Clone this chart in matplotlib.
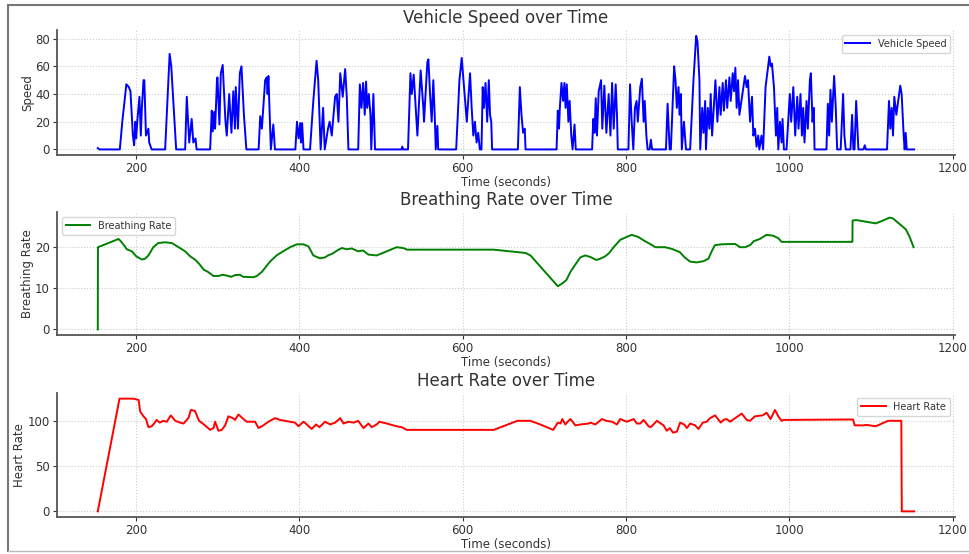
import matplotlib
matplotlib.use("Agg")
import matplotlib.pyplot as plt
from matplotlib.lines import Line2D

# vehicle speed readings (time in seconds, speed)
speed_time = [153, 155, 180, 183, 188, 191, 193, 196, 197.5, 199, 200, 201.6, 204, 205.7, 207, 209, 210, 212, 215, 216, 219,
              235.5, 241, 243, 249, 260, 262, 265, 268, 270, 272.7, 274, 290.6, 292.6, 293.8, 295.5, 296.7, 299, 299.6,
              302, 303.7, 306, 309.4, 311, 314, 316.7, 319, 321, 322, 324.7, 327, 329, 332, 335, 350, 352, 354, 358,
              360, 361, 362, 365, 368, 370, 395, 397, 399, 401, 402, 403.3, 405, 413, 417, 421, 423, 426, 429, 431,
              435, 437, 439.6, 443.7, 445.7, 447.8, 450, 453, 456, 458, 460, 472, 474, 476, 478, 480, 481.6, 483, 485,
              487, 488, 490.6, 492.6, 525, 526, 527, 533, 536, 537.6, 540, 542.5, 544.5, 548.5, 551.8, 552.6, 556.7,
              558, 560, 562, 564, 566, 567, 569, 570, 592, 596, 598.8, 601, 605, 609, 611, 613, 615, 617, 619, 621,
              623, 624.5, 626, 628, 630, 632, 633.5, 635, 636, 667.6, 670, 672, 674, 676, 677, 715, 716.5, 718, 719,
              721, 723, 724.6, 726, 727.5, 729.5, 731, 733, 734.6, 737, 738.5, 758.5, 760, 761.5, 763, 764.5, 766.6,
              769.5, 771, 773.5, 776, 778.8, 781, 783, 785, 787.4, 789, 790, 803, 805, 807, 809, 811, 813, 814.5,
              817.5, 819.5, 821.6, 823, 825, 826.5, 829, 830.5, 832, 849, 851, 853.5, 855, 859, 860.7, 862.3, 864.4,
              865.6, 867.2, 868.4, 871, 873.5, 878.6, 882.7, 886, 887.6, 890, 891, 893.4, 895, 897, 898, 900.2, 902.2,
              903.8, 905.5, 909.6, 912, 914.5, 916, 918.5, 920, 922.5, 924, 926.7, 928.3, 930.8, 932.4, 934, 935.6,
              937.3, 939, 945.8, 947.8, 949.5, 952, 954.4, 956, 958, 960, 962, 963.4, 966, 968, 971, 975.6, 977.2,
              978.8, 981.3, 983.7, 985.3, 986.6, 988.6, 990.6, 991.8, 993.5, 996.7, 1000.7, 1002.4, 1005, 1007.3,
              1009.8, 1011.4, 1013.8, 1015.5, 1017.1, 1018.7, 1021.2, 1022.8, 1025.3, 1026.5, 1028.5, 1030.1, 1031,
              1045.6, 1047.3, 1048.9, 1050.5, 1052.2, 1055, 1057, 1058.7, 1063, 1066, 1067.6, 1069.2, 1075, 1077,
              1078.6, 1080, 1082, 1084.7, 1091, 1092.5, 1094, 1119.8, 1122.2, 1123.8, 1125.5, 1127.1, 1128.7, 1131.2,
              1136, 1137.7, 1140.2, 1141.4, 1142.6, 1144, 1153]
speed_vals = [1, 0, 0, 20, 47, 45, 42, 10, 3, 20, 8, 22, 38, 10, 30, 50, 50, 10, 15, 5, 0,
              0, 69, 60, 0, 0, 38, 5, 22, 5, 8, 0, 0, 28, 13, 27, 15, 50, 52,
              18, 55, 61, 20, 10, 40, 12, 42, 15, 45, 15, 55, 60, 25, 0, 0, 24, 15, 50,
              52, 40, 53, 0, 18, 0, 0, 20, 8, 19, 5, 19, 0, 0, 35, 64, 50, 0, 30, 0,
              15, 20, 10, 38, 40, 20, 55, 38, 58, 38, 0, 0, 47, 30, 48, 25, 49, 30, 40,
              25, 0, 40, 0, 0, 2, 0, 0, 55, 40, 54, 30, 10, 57, 30, 20, 63,
              65, 40, 20, 50, 20, 0, 17, 0, 0, 50, 66, 50, 20, 55, 30, 10, 20, 5, 12, 0,
              0, 45, 30, 48, 20, 50, 25, 20, 0, 0, 45, 25, 12, 15, 0, 0, 28, 15, 30,
              48, 35, 48, 30, 47, 20, 35, 10, 0, 18, 0, 0, 22, 12, 37, 10, 42,
              50, 15, 46, 12, 40, 10, 48, 15, 47, 25, 0, 0, 47, 20, 0, 30, 35, 20,
              45, 51, 20, 35, 10, 0, 0, 7, 0, 0, 33, 0, 0, 60, 50, 30, 45,
              25, 40, 0, 20, 0, 0, 50, 82, 78, 50, 0, 30, 12, 35, 0, 30, 15,
              40, 10, 50, 20, 45, 25, 48, 28, 50, 30, 52, 35, 55, 42, 59, 30,
              50, 25, 53, 45, 50, 20, 38, 10, 15, 2, 10, 0, 10, 0, 45, 67, 60,
              62, 45, 10, 30, 0, 20, 5, 22, 0, 0, 40, 20, 45, 10,
              38, 15, 40, 10, 30, 5, 35, 15, 50, 55, 20, 30, 0,
              0, 33, 10, 43, 20, 53, 30, 0, 0, 40, 10, 0, 0, 25,
              0, 0, 35, 0, 0, 3, 0, 0, 35, 15, 30, 10, 38, 25,
              46, 40, 10, 0, 12, 0, 0]

# breathing rate readings
breath_time = [153, 153.2, 178.4, 181, 185, 188.6, 194.7, 200, 207, 211, 215, 221, 227, 235.5, 243.7, 252, 260, 266,
               272, 277, 283, 288, 294.7, 300.8, 306, 313, 316.3, 321, 327, 331, 343.7, 347.8, 354, 360, 364, 372,
               380, 388.6, 396.7, 404.9, 411, 417, 425, 431, 435.1, 441, 447, 452, 458, 464, 472, 478, 484.5, 494.7,
               507, 519, 527, 532, 638, 677, 683, 716.5, 722, 727, 732, 737, 744, 750, 756.6, 763.7, 768.5, 774.6,
               779, 785, 793, 801, 807, 815, 823, 832, 836, 848, 856, 866, 872, 878.6, 886.7, 894.9, 901, 905,
               909, 917, 933.6, 939.7, 945.8, 952, 956.8, 964, 972, 980.3, 986.6, 990.6, 1077.4, 1077.6, 1082,
               1094, 1106, 1115, 1123, 1127, 1133, 1139, 1143, 1147.5, 1152.3]
breath_vals = [0, 20, 22, 21.5, 20.5, 19.5, 19, 17.8, 17, 17.2, 18, 20, 21, 21.2, 21, 20, 19, 17.8,
               17, 16, 14.5, 14, 13, 13, 13.3, 13, 12.8, 13.2, 13.3, 12.8, 12.7, 13, 14, 15.5, 16.5, 18,
               19, 20, 20.7, 20.7, 20.2, 18, 17.3, 17.5, 18, 18.5, 19.3, 19.8, 19.5, 19.7, 19, 19.2, 18.2, 18,
               19, 20, 19.8, 19.4, 19.4, 18.6, 18, 10.5, 11.2, 12, 14, 15.5, 17.5, 18, 17.6, 16.9, 17.2, 17.8,
               18.5, 20, 21.8, 22.5, 23, 22.5, 21.5, 20.5, 20, 20, 19.6, 18.8, 17.5, 16.5, 16.3, 16.6, 17.2, 19,
               20.5, 20.7, 20.8, 20, 20, 20.5, 21.5, 22, 23, 22.8, 22.2, 21.3, 21.3, 26.5, 26.6,
               26.2, 25.8, 26.5, 27.2, 27, 26, 25, 24.3, 22.5, 20]

# heart rate readings
heart_time = [153, 179.6, 196.7, 203, 205, 209, 212, 215, 219, 222, 225, 229, 233, 237.6, 242.4, 248, 254, 258, 264,
              267, 272, 277, 283, 290.6, 294.7, 296.7, 300.8, 304.9, 309, 313, 318.4, 321.2, 325.3, 331.4, 335.5,
              345.7, 349.8, 355.9, 362, 366, 370.2, 376, 388.6, 394.7, 398.8, 405, 409, 415, 420.4, 424.5, 431.4,
              437.6, 443.7, 450, 454, 460, 466.4, 472, 478.4, 484.5, 488.6, 494.7, 498, 507, 519, 525.3, 531.4,
              638, 667, 683, 695, 710.8, 716.5, 719.8, 722, 725.7, 728.5, 732, 738, 744.4, 754.4, 756.4, 762.5,
              770.7, 776, 783, 789, 793, 801, 809.4, 813.4, 817.5, 821.6, 827.7, 830.5, 837.9, 846, 850, 853.6,
              857.6, 862.3, 866.4, 871.3, 874.6, 878.6, 884.7, 888.8, 894.1, 899, 903, 909.2, 916.1, 919.4, 923.4,
              927.5, 941.8, 947.9, 952, 958, 967.4, 972.3, 977.2, 982.5, 986.6, 990.6, 992.7, 1078.2, 1080.2,
              1090.4, 1094.5, 1106, 1121, 1137.3, 1137.9, 1153]
heart_vals = [0, 124.5, 124.5, 123, 110, 105, 102, 93, 94, 97, 101, 98, 100, 99, 106, 100, 98, 97, 103,
              112, 111, 100, 96, 90, 92, 99, 89, 90, 95, 105, 103, 101, 107, 102, 99,
              99, 92, 95, 99, 101, 103, 101, 99, 98, 94, 99, 96, 91, 96, 93, 99,
              96, 98, 103, 97, 99, 98, 100, 92, 97, 93, 96, 99, 97, 94, 93, 90,
              90, 100, 100, 96, 90, 98, 97, 102, 96, 99, 102, 95, 96, 97, 98, 96,
              102, 100, 99, 96, 102, 99, 102, 97, 97, 101, 94, 93, 100, 95, 89, 92,
              87, 88, 98, 96, 92, 97, 95, 91, 98, 99, 103, 106, 98, 101, 102,
              99, 108, 101, 100, 105, 106, 109, 102, 112, 105, 100, 101, 101.5, 95,
              95, 95.5, 94, 100, 100, 0, 0]

text_col = "#333333"
spine_col = "#555555"

fig = plt.figure(figsize=(9.69, 5.54), dpi=100)
boxes = [[0.0588, 0.720, 0.9267, 0.2256],
         [0.0588, 0.3953, 0.9267, 0.222],
         [0.0588, 0.0668, 0.9267, 0.2238]]
axs = [fig.add_axes(b) for b in boxes]

series = [(speed_time, speed_vals, "blue", "Vehicle Speed", "Speed", "Vehicle Speed over Time", "upper right", [0, 20, 40, 60, 80]),
          (breath_time, breath_vals, "green", "Breathing Rate", "Breathing Rate", "Breathing Rate over Time", "upper left", [0, 10, 20]),
          (heart_time, heart_vals, "red", "Heart Rate", "Heart Rate", "Heart Rate over Time", "upper right", [0, 50, 100])]

for ax, (t, v, col, lab, ylab, title, loc, yt) in zip(axs, series):
    ax.plot(t, v, color=col, lw=1.4, label=lab)
    ax.set_xlim(103, 1203)
    ax.set_xticks([200, 400, 600, 800, 1000, 1200])
    ax.set_yticks(yt)
    ax.set_title(title, fontsize=12, color=text_col, pad=5)
    ax.set_xlabel("Time (seconds)", fontsize=8.5, color=text_col, labelpad=1)
    ax.set_ylabel(ylab, fontsize=8.5, color=text_col, labelpad=1)
    ax.grid(True, linestyle=":", color="#cccccc", lw=0.8)
    ax.tick_params(labelsize=8.5, colors=text_col, length=3, width=0.8, pad=2)
    ax.spines['top'].set_visible(False)
    ax.spines['right'].set_visible(False)
    ax.spines['left'].set_color(spine_col)
    ax.spines['bottom'].set_color(spine_col)
    ax.spines['left'].set_linewidth(1.3)
    ax.spines['bottom'].set_linewidth(1.3)
    leg = ax.legend(loc=loc, fontsize=7, frameon=True, handlelength=2.5)
    leg.get_frame().set_edgecolor("#cccccc")
    for txt in leg.get_texts():
        txt.set_color(text_col)

# frame round the picture: left, top and bottom edges only
x0, y0, y1 = 0.0083, 0.0054, 0.991
fig.add_artist(Line2D([x0, x0], [y0, y1], color="#777777", lw=1.5, transform=fig.transFigure))
fig.add_artist(Line2D([x0, 1.0], [y1, y1], color="#777777", lw=1.5, transform=fig.transFigure))
fig.add_artist(Line2D([x0, 1.0], [y0, y0], color="#bbbbbb", lw=1.0, transform=fig.transFigure))

fig.savefig("out.png", dpi=100)
